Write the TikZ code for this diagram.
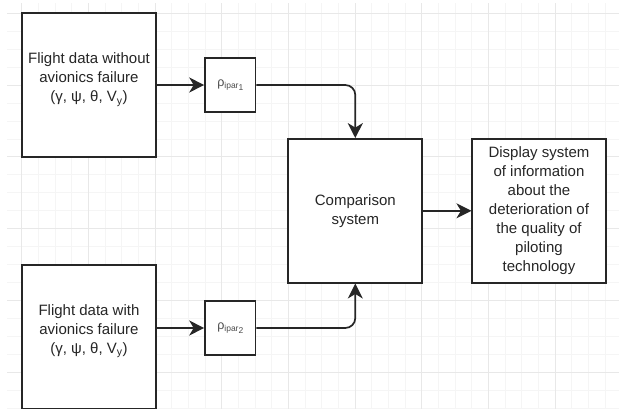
\documentclass[tikz,border=0pt]{standalone}
\usepackage{fontspec}
\setmainfont{Liberation Sans}
\usetikzlibrary{arrows.meta,positioning}

\newcommand{\rhopar}[1]{ρ\raisebox{-2.5pt}{\fontsize{8.5}{9}\selectfont ipar\raisebox{-1.5pt}{#1}}}

\begin{document}
\begin{tikzpicture}[x=1pt, y=-1pt,
  block/.style={rectangle, draw=black!85, line width=1.7pt, fill=white, minimum width=133.4pt, minimum height=143.4pt, inner sep=0pt, align=center, font=\fontsize{15}{19}\selectfont, text=black!85},
  rhobox/.style={rectangle, draw=black!85, line width=1.5pt, fill=white, minimum width=50.7pt, minimum height=54pt, inner sep=0pt, font=\fontsize{12.5}{14}\selectfont, text=black!70},
  arrow/.style={-{Stealth[length=15pt,width=15pt,inset=4.5pt]}, line width=1.7pt, draw=black!85},
  gridminor/.style={draw=black!4, line width=0.8pt},
  gridmajor/.style={draw=black!9, line width=0.9pt}
]
\useasboundingbox (0,0) rectangle (619,409);

% Background grid
\foreach \k in {0,...,35} \draw[gridminor] ({21.7+16.667*\k},3.3) -- ({21.7+16.667*\k},409);
\foreach \k in {0,...,22} \draw[gridminor] (7.3,{13.3+17.95*\k}) -- (619,{13.3+17.95*\k});
\foreach \k in {0,4,...,32} \draw[gridmajor] ({21.7+16.667*\k},3.3) -- ({21.7+16.667*\k},409);
\foreach \k in {0,4,...,20} \draw[gridmajor] (7.3,{13.3+17.95*\k}) -- (619,{13.3+17.95*\k});

% Flight data sources
\node[block] (nofail) at (89, 85) {Flight data without\\avionics failure\\(γ, ψ, θ, V\textsubscript{y})\\[-4pt]};
\node[block] (withfail) at (89, 336.7) {Flight data with\\avionics failure\\(γ, ψ, θ, V\textsubscript{y})\\[-4pt]};

% Parameters
\node[rhobox] (rho1) at (230.3, 85) {\rhopar{1}};
\node[rhobox] (rho2) at (230.3, 328) {\rhopar{2}};

% Comparison and display
\node[block, minimum width=134pt, minimum height=143.7pt] (comp) at (355.3, 210.8) {Comparison\\system};
\node[block, minimum height=143.7pt] (disp) at (539, 210.8) {Display system\\of information\\about the\\deterioration of\\the quality of\\piloting\\technology};

% Arrows
\draw[arrow] (nofail) -- (rho1);
\draw[arrow] (rho2.west -| withfail.east) -- (rho2);
\draw[arrow, rounded corners=10pt] (rho1) -| (comp);
\draw[arrow, rounded corners=10pt] (rho2) -| (comp);
\draw[arrow] (comp) -- (disp);

\end{tikzpicture}
\end{document}
